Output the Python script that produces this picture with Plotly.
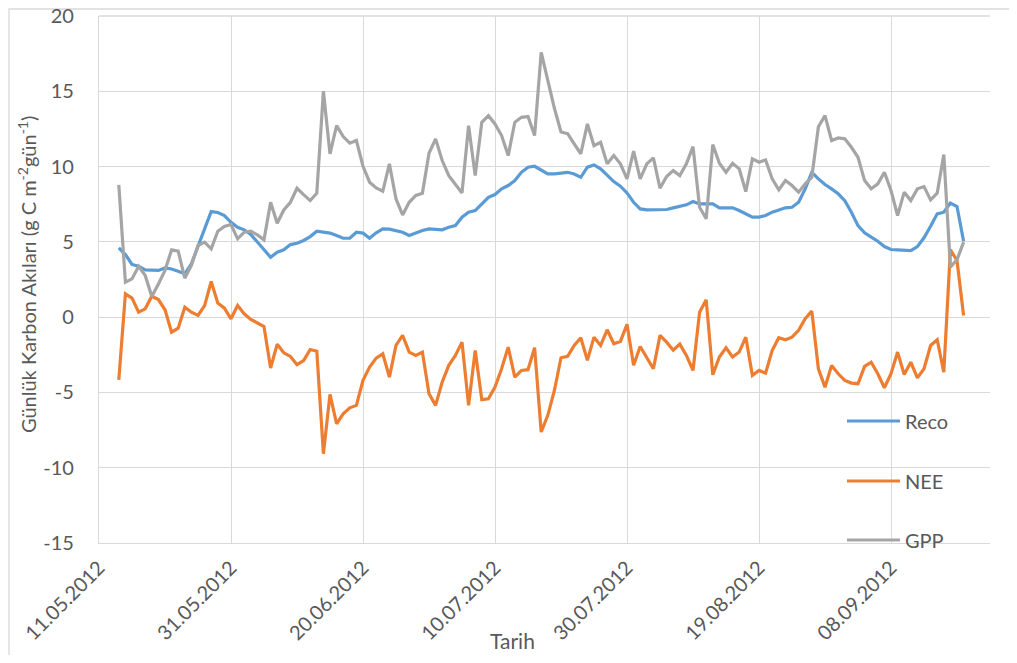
import pandas as pd
import plotly.graph_objects as go

# daily values, 14.05.2012 - 19.09.2012
dates = pd.date_range("2012-05-14", "2012-09-19", freq="D")

reco = [
    4.6, 4.16, 3.5, 3.38, 3.14, 3.1, 3.1, 3.27, 3.2, 3.05,
    2.88, 3.54, 4.76, 5.86, 7.01, 6.95, 6.75, 6.3, 5.97, 5.8,
    5.49, 4.98, 4.42, 3.98, 4.31, 4.47, 4.82, 4.91, 5.09, 5.35,
    5.71, 5.64, 5.58, 5.42, 5.24, 5.24, 5.64, 5.58, 5.24, 5.6,
    5.86, 5.84, 5.75, 5.64, 5.42, 5.6, 5.75, 5.86, 5.82, 5.8,
    5.97, 6.08, 6.64, 6.97, 7.08, 7.52, 7.96, 8.14, 8.52, 8.74,
    9.07, 9.62, 9.96, 10.02, 9.78, 9.51, 9.51, 9.58, 9.62, 9.51,
    9.29, 9.96, 10.11, 9.85, 9.4, 9.0, 8.7, 8.25, 7.63, 7.19,
    7.12, 7.12, 7.15, 7.15, 7.26, 7.35, 7.46, 7.68, 7.52, 7.52,
    7.52, 7.26, 7.26, 7.26, 7.08, 6.86, 6.64, 6.64, 6.75, 6.97,
    7.12, 7.26, 7.3, 7.63, 8.52, 9.62, 9.18, 8.81, 8.52, 8.19,
    7.74, 6.97, 6.08, 5.6, 5.31, 5.04, 4.69, 4.49, 4.47, 4.42,
    4.42, 4.69, 5.27, 6.04, 6.86, 6.97, 7.57, 7.35, 5.04,
]

nee = [
    -4.16, 1.55, 1.26, 0.33, 0.55, 1.39, 1.17, 0.49, -1.0, -0.73,
    0.66, 0.33, 0.11, 0.77, 2.37, 0.93, 0.6, -0.11, 0.77, 0.22,
    -0.15, -0.38, -0.62, -3.38, -1.8, -2.37, -2.61, -3.16, -2.88, -2.15,
    -2.26, -9.07, -5.13, -7.08, -6.42, -6.02, -5.86, -4.2, -3.32, -2.72,
    -2.43, -3.98, -1.88, -1.21, -2.32, -2.54, -2.32, -5.09, -5.86, -4.31,
    -3.2, -2.54, -1.66, -5.86, -2.21, -5.48, -5.42, -4.64, -3.43, -1.99,
    -3.98, -3.54, -3.49, -2.03, -7.63, -6.52, -4.87, -2.7, -2.61, -1.88,
    -1.37, -2.87, -1.33, -1.88, -0.84, -1.77, -1.61, -0.48, -3.2, -1.95,
    -2.73, -3.43, -1.21, -1.66, -2.2, -1.79, -2.54, -3.54, 0.33, 1.15,
    -3.83, -2.65, -2.04, -2.65, -2.32, -1.33, -3.87, -3.54, -3.72, -2.21,
    -1.37, -1.5, -1.33, -0.88, -0.11, 0.4, -3.43, -4.65, -3.21, -3.76,
    -4.2, -4.38, -4.42, -3.27, -2.99, -3.76, -4.69, -3.76, -2.32, -3.81,
    -2.99, -4.03, -3.43, -1.88, -1.5, -3.65, 4.47, 3.76, 0.11,
]

gpp = [
    8.78, 2.32, 2.54, 3.38, 2.77, 1.37, 2.2, 3.1, 4.47, 4.38,
    2.59, 3.43, 4.76, 4.98, 4.54, 5.71, 6.02, 6.15, 5.2, 5.64,
    5.71, 5.46, 5.13, 7.63, 6.24, 7.12, 7.63, 8.56, 8.14, 7.74,
    8.23, 15.0, 10.84, 12.72, 11.99, 11.55, 11.73, 10.02, 8.96, 8.58,
    8.36, 10.18, 7.85, 6.79, 7.63, 8.08, 8.23, 10.88, 11.84, 10.4,
    9.4, 8.8, 8.25, 12.72, 9.4, 12.94, 13.38, 12.83, 12.06, 10.73,
    12.94, 13.27, 13.32, 12.06, 17.59, 15.73, 13.87, 12.3, 12.18, 11.5,
    10.85, 12.83, 11.39, 11.61, 10.18, 10.73, 10.18, 9.18, 11.02, 9.18,
    10.18, 10.58, 8.56, 9.34, 9.73, 9.4, 10.18, 11.33, 7.3, 6.53,
    11.46, 10.22, 9.62, 10.22, 9.85, 8.34, 10.51, 10.29, 10.44, 9.18,
    8.45, 9.07, 8.74, 8.3, 8.85, 9.29, 12.65, 13.38, 11.73, 11.9,
    11.84, 11.28, 10.62, 9.07, 8.52, 8.85, 9.62, 8.41, 6.75, 8.3,
    7.74, 8.52, 8.67, 7.79, 8.23, 10.8, 3.32, 3.81, 4.98,
]

series = [("Reco", reco, "#5B9BD5"), ("NEE", nee, "#ED7D31"), ("GPP", gpp, "#A5A5A5")]

y_ticks = [20, 15, 10, 5, 0, -5, -10, -15]
y_ticktext = [str(v) for v in y_ticks]  # plain hyphen like Excel

FONT = "Lato, 'Open Sans', sans-serif"
TXT = "#595959"
GRID = "#D9D9D9"

# the page body has an 8px margin, so the figure is a bit smaller than the window
OFF = 8
W, H = 1017 - 2 * OFF, 663 - 2 * OFF
# plot area in window pixels
L, R, T, B = 99, 990, 16, 543


def px(x):
    return (x - L) / (R - L)


def py(y):
    return (B - y) / (B - T)


fig = go.Figure()
for name, vals, color in series:
    fig.add_trace(go.Scatter(
        x=dates, y=vals, name=name, mode="lines",
        line=dict(color=color, width=3.2),
        showlegend=False, cliponaxis=False
    ))

fig.update_layout(
    width=W, height=H,
    margin=dict(l=L - OFF, r=W - (R - OFF), t=T - OFF, b=H - (B - OFF)),
    paper_bgcolor="white",
    plot_bgcolor="white",
    font=dict(family=FONT, size=20, color=TXT),
)

fig.update_xaxes(
    type="date",
    range=["2012-05-11", "2012-09-23"],
    tick0="2012-05-11",
    dtick=20 * 86400000,
    tickformat="%d.%m.%Y",
    tickangle=-45,
    tickfont=dict(size=20, color=TXT),
    showgrid=True, gridcolor=GRID, gridwidth=1.3,
    showline=True, linecolor=GRID, linewidth=1.3,
    ticks="outside", ticklen=4, tickcolor="rgba(0,0,0,0)",
    zeroline=False, automargin=False, ticklabeloverflow="allow",
)

fig.update_yaxes(
    range=[-15, 20],
    tickvals=y_ticks,
    ticktext=y_ticktext,
    tickfont=dict(size=20, color=TXT),
    showgrid=True, gridcolor=GRID, gridwidth=1.3,
    showline=True, linecolor=GRID, linewidth=1.3,
    ticks="outside", ticklen=20, tickcolor="rgba(0,0,0,0)",
    zeroline=False, automargin=False, ticklabeloverflow="allow",
)

# top gridline of the plot area (value 20)
fig.add_shape(type="line", xref="paper", yref="paper", x0=0, x1=1, y0=1, y1=1,
              line=dict(color=GRID, width=1.3), layer="below")

# legend drawn Excel style, inside the plot on the right
legend_y = [421, 481, 540]
for (name, vals, color), ly in zip(series, legend_y):
    fig.add_shape(type="line", xref="paper", yref="paper",
                  x0=px(847), x1=px(900), y0=py(ly), y1=py(ly),
                  line=dict(color=color, width=3.2))
    fig.add_annotation(xref="paper", yref="paper", x=px(903), y=py(ly),
                       text=name, showarrow=False, xanchor="left", yanchor="middle",
                       font=dict(family=FONT, size=20, color=TXT))

# axis titles
fig.add_annotation(xref="paper", yref="paper", x=px(512), y=py(640),
                   text="Tarih", showarrow=False, xanchor="center", yanchor="middle",
                   font=dict(family=FONT, size=21, color=TXT))
fig.add_annotation(xref="paper", yref="paper", x=px(27), y=py(275),
                   text="Günlük Karbon Akıları (g C m<sup>-2</sup>gün<sup>-1</sup>)",
                   textangle=-90, showarrow=False, xanchor="center", yanchor="middle",
                   font=dict(family=FONT, size=20, color=TXT))

# chart area border
fig.add_shape(type="rect", xref="paper", yref="paper",
              x0=px(OFF + 1), x1=px(1013), y0=py(658), y1=py(OFF + 1),
              line=dict(color=GRID, width=1.3), layer="below")

fig.write_html("out.html")
